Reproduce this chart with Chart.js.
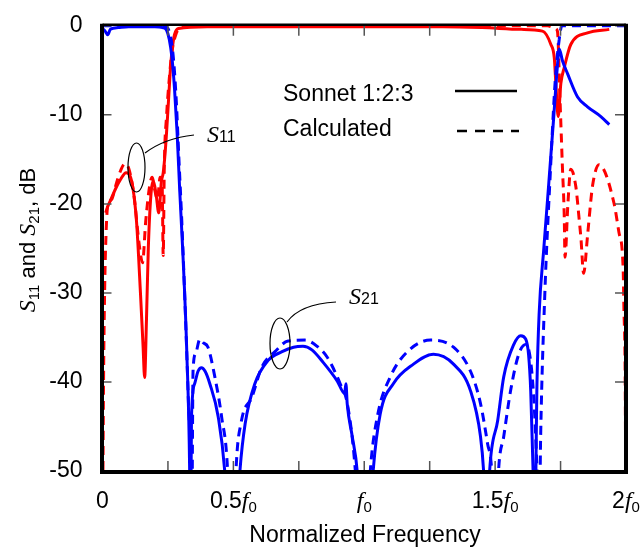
<!DOCTYPE html>
<html>
<head>
<meta charset="utf-8">
<script src="https://cdn.jsdelivr.net/npm/chart.js@4/dist/chart.umd.min.js"></script>
<style>
  body { margin: 0; background: #fff; }
  canvas { display: block; }
</style>
</head>
<body>
<canvas id="chart" width="641" height="550"></canvas>
<script>
// S21, Sonnet 1:2:3 (solid blue)
const s21SonnetF = [0, 0.01, 0.02, 0.03, 0.06, 0.1, 0.15, 0.2, 0.23, 0.245, 0.255, 0.265, 0.275, 0.285, 0.295, 0.307, 0.322, 0.333, 0.336, 0.34, 0.352, 0.365, 0.378, 0.392, 0.41, 0.442, 0.467, 0.495, 0.525, 0.545, 0.582, 0.632, 0.686, 0.73, 0.766, 0.8, 0.843, 0.897, 0.925, 0.93, 0.935, 0.954, 0.973, 1.003, 1.034, 1.061, 1.111, 1.188, 1.264, 1.341, 1.406, 1.444, 1.456, 1.468, 1.479, 1.51, 1.533, 1.571, 1.598, 1.617, 1.628, 1.636, 1.645, 1.652, 1.66, 1.668, 1.686, 1.705, 1.724, 1.738, 1.745, 1.757, 1.777, 1.815, 1.853, 1.904, 1.936];
const s21SonnetDb = [-0.3, -0.6, -1.0, -0.4, -0.2, -0.1, -0.1, -0.1, -0.2, -0.5, -1.5, -3.5, -7, -12, -18.5, -25.5, -36.6, -50, -60, -43.9, -40.2, -38.8, -38.4, -38.8, -40.2, -43.9, -50, -65, -50, -44.7, -40.2, -37.6, -36.6, -36.1, -36.0, -36.4, -37.8, -39.9, -41.3, -40.2, -42.5, -46.1, -50, -65, -50, -43.6, -40.2, -38, -36.9, -38, -41, -46.1, -50, -58, -50, -44.3, -39.4, -35.8, -34.8, -35.2, -37, -41, -50, -56, -40, -32.4, -25, -17.7, -10.2, -4.5, -2.6, -3.9, -5.4, -8, -9.1, -10.2, -11.1];

// S21, calculated (dashed blue)
const s21CalcF = [0, 0.1, 0.2, 0.24, 0.25, 0.262, 0.272, 0.282, 0.292, 0.303, 0.315, 0.328, 0.337, 0.341, 0.344, 0.346, 0.356, 0.372, 0.385, 0.403, 0.429, 0.455, 0.478, 0.495, 0.51, 0.53, 0.571, 0.609, 0.659, 0.709, 0.774, 0.82, 0.858, 0.908, 0.935, 0.966, 0.995, 1.023, 1.05, 1.1, 1.165, 1.253, 1.341, 1.406, 1.444, 1.471, 1.487, 1.5, 1.513, 1.533, 1.559, 1.59, 1.617, 1.635, 1.648, 1.66, 1.668, 1.674, 1.69, 1.71, 1.73, 1.745, 1.755, 1.8, 1.9, 2.0];
const s21CalcDb = [0, 0, 0, -0.1, -0.3, -1.5, -4, -8.5, -15, -22, -31, -42, -50, -60, -45, -38.7, -36.8, -35.2, -35.6, -36.1, -39.4, -43.9, -50, -65, -50, -44.5, -41.7, -38.3, -36.6, -35.4, -35.3, -36, -37.2, -40.2, -42.4, -50, -65, -50, -43.9, -39.4, -36.6, -35.3, -36.1, -38.8, -42.4, -46.9, -50, -60, -50, -46.1, -41, -36.9, -35.8, -37.5, -42, -50, -58, -46, -30, -17, -6, -1.5, 0, 0, 0, 0];

// S11, Sonnet 1:2:3 (solid red)
const s11SonnetF = [0.012, 0.02, 0.035, 0.05, 0.07, 0.09, 0.1, 0.115, 0.13, 0.145, 0.155, 0.161, 0.168, 0.175, 0.185, 0.195, 0.205, 0.215, 0.225, 0.232, 0.24, 0.25, 0.258, 0.265, 0.275, 0.29, 0.4, 1.0, 1.3, 1.45, 1.6, 1.681, 1.713, 1.726, 1.732, 1.741, 1.751, 1.764, 1.789, 1.853, 1.936];
const s11SonnetDb = [-21, -20.3, -19.3, -18.3, -17.2, -16.5, -16.6, -18, -22, -30, -36, -39.5, -33, -25, -19, -17.5, -19, -21, -17.5, -16.5, -14, -9.5, -5.5, -3, -1, -0.3, -0.1, -0.1, -0.1, -0.2, -0.4, -0.6, -2.1, -3.6, -6.5, -10.2, -6.5, -4.7, -2.1, -0.8, -0.4];

// S11, calculated (dashed red)
const s11CalcF = [0, 0.004, 0.008, 0.014, 0.02, 0.035, 0.05, 0.07, 0.085, 0.1, 0.12, 0.14, 0.153, 0.165, 0.18, 0.19, 0.2, 0.21, 0.22, 0.228, 0.232, 0.236, 0.245, 0.255, 0.265, 0.28, 0.3, 0.35, 1.7, 1.73, 1.738, 1.748, 1.757, 1.764, 1.767, 1.778, 1.789, 1.808, 1.821, 1.828, 1.838, 1.853, 1.859, 1.872, 1.897, 1.954, 1.973, 1.989, 1.992, 1.997, 2.0];
const s11CalcDb = [-60, -40, -30, -23, -20.2, -19.5, -18, -16.2, -15.5, -16, -19, -24.5, -26.6, -22, -18, -17, -18.5, -19.5, -17, -18, -25.8, -16, -10, -6, -3, -1, -0.2, 0, 0, -0.3, -0.6, -8.4, -15.8, -21.3, -26, -20, -16.1, -18, -21.7, -23.9, -27.8, -23.6, -21.7, -18, -15.6, -19.9, -23.2, -27.2, -31.7, -40, -60];

const xTicks = [0, 0.25, 0.5, 0.75, 1, 1.25, 1.5, 1.75, 2];
const xLabels = [[0, '0', ''], [0.5, '0.5', 'f'], [1, '', 'f'], [1.5, '1.5', 'f'], [2, '2', 'f']];
const yTicks = [0, -10, -20, -30, -40, -50];

const SANS = "'Liberation Sans', Arial, sans-serif";
const SERIF = "'Liberation Serif', 'Times New Roman', serif";

function pts(xs, ys) {
  return xs.map((x, i) => ({ x: x, y: ys[i] }));
}

// text made of pieces with their own font and baseline shift
function richText(ctx, parts, x, y, align) {
  let w = 0;
  parts.forEach(p => { ctx.font = p[1]; w += ctx.measureText(p[0]).width; });
  let cx = align === 'center' ? x - w / 2 : x;
  parts.forEach(p => {
    ctx.font = p[1];
    ctx.fillText(p[0], cx, y + (p[2] || 0));
    cx += ctx.measureText(p[0]).width;
  });
}

const decor = {
  id: 'decor',
  afterDatasetsDraw(chart) {
    const ctx = chart.ctx;
    const a = chart.chartArea;
    const xs = chart.scales.x, ys = chart.scales.y;
    ctx.save();

    // inward ticks
    ctx.strokeStyle = '#555';
    ctx.lineWidth = 1.5;
    ctx.beginPath();
    xTicks.forEach(v => {
      const px = xs.getPixelForValue(v);
      ctx.moveTo(px, a.bottom); ctx.lineTo(px, a.bottom - 10);
      ctx.moveTo(px, a.top); ctx.lineTo(px, a.top + 10);
    });
    yTicks.forEach(v => {
      const py = ys.getPixelForValue(v);
      ctx.moveTo(a.left, py); ctx.lineTo(a.left + 9, py);
      ctx.moveTo(a.right, py); ctx.lineTo(a.right - 11, py);
    });
    ctx.stroke();

    // frame
    ctx.strokeStyle = '#000';
    ctx.lineWidth = 2.5;
    ctx.beginPath();
    ctx.moveTo(a.left, a.top - 1); ctx.lineTo(a.right, a.top - 1);
    ctx.stroke();
    ctx.lineWidth = 4;
    ctx.beginPath();
    ctx.moveTo(a.left - 0.5, a.top - 2); ctx.lineTo(a.left - 0.5, a.bottom + 1);
    ctx.lineTo(a.right, a.bottom + 1); ctx.lineTo(a.right, a.top - 2);
    ctx.stroke();

    ctx.fillStyle = '#000';
    ctx.textBaseline = 'alphabetic';

    // x tick labels
    xLabels.forEach(l => {
      const px = xs.getPixelForValue(l[0]);
      const parts = [[l[1], '23px ' + SANS]];
      if (l[2]) {
        parts.push([l[2], 'italic 24px ' + SERIF]);
        parts.push(['0', '15px ' + SANS, 4]);
      }
      richText(ctx, parts, px, 508, 'center');
    });

    // axis titles
    ctx.font = '23px ' + SANS;
    ctx.textAlign = 'left';
    richText(ctx, [['Normalized Frequency', '23px ' + SANS]], 365, 542, 'center');

    ctx.save();
    ctx.translate(27, 240);
    ctx.rotate(-Math.PI / 2);
    richText(ctx, [
      ['S', 'italic 24px ' + SERIF], ['11', '15px ' + SANS, 4],
      [' and ', '22px ' + SANS],
      ['S', 'italic 24px ' + SERIF], ['21', '15px ' + SANS, 4],
      [', dB', '22px ' + SANS]
    ], 0, 8, 'center');
    ctx.restore();

    // legend
    richText(ctx, [['Sonnet 1:2:3', '23px ' + SANS]], 283, 101, 'left');
    richText(ctx, [['Calculated', '23px ' + SANS]], 283, 136, 'left');
    ctx.lineWidth = 2.7;
    ctx.beginPath();
    ctx.moveTo(455, 91); ctx.lineTo(517, 91);
    ctx.stroke();
    ctx.setLineDash([10, 8]);
    ctx.beginPath();
    ctx.moveTo(457, 131); ctx.lineTo(519, 131);
    ctx.stroke();
    ctx.setLineDash([]);

    // curve annotations
    ctx.lineWidth = 1.2;
    ctx.beginPath();
    ctx.ellipse(136.5, 167.5, 8.5, 24.5, 0, 0, Math.PI * 2);
    ctx.moveTo(145, 153);
    ctx.quadraticCurveTo(165, 138, 194, 135);
    ctx.stroke();
    richText(ctx, [['S', 'italic 24px ' + SERIF], ['11', '16px ' + SANS, 0]], 207, 142, 'left');

    ctx.beginPath();
    ctx.ellipse(280, 343.5, 10, 25.5, 0, 0, Math.PI * 2);
    ctx.moveTo(287, 322);
    ctx.quadraticCurveTo(300, 304, 336, 302);
    ctx.stroke();
    richText(ctx, [['S', 'italic 24px ' + SERIF], ['21', '16px ' + SANS, 0]], 349, 304, 'left');

    ctx.restore();
  }
};

const line = (data, color, dash) => ({
  data: data,
  borderColor: color,
  borderWidth: 3,
  borderDash: dash,
  pointRadius: 0,
  fill: false,
  cubicInterpolationMode: 'monotone'
});

new Chart(document.getElementById('chart'), {
  type: 'line',
  data: {
    datasets: [
      line(pts(s21CalcF, s21CalcDb), '#0000ff', [9, 6]),
      line(pts(s21SonnetF, s21SonnetDb), '#0000ff', []),
      line(pts(s11CalcF, s11CalcDb), '#ff0000', [9, 6]),
      line(pts(s11SonnetF, s11SonnetDb), '#ff0000', [])
    ]
  },
  options: {
    responsive: false,
    animation: false,
    layout: { padding: { top: 17, right: 15, left: 0, bottom: 0 } },
    plugins: { legend: { display: false }, tooltip: { enabled: false } },
    scales: {
      x: {
        type: 'linear', min: 0, max: 2,
        ticks: { display: false, stepSize: 0.25 },
        grid: { display: false },
        border: { display: false },
        afterFit: s => { s.height = 79; }
      },
      y: {
        min: -50, max: 0,
        ticks: { stepSize: 10, color: '#000', padding: 12, font: { family: SANS, size: 23 } },
        grid: { display: false },
        border: { display: false },
        afterFit: s => { s.width = 102.5; }
      }
    }
  },
  plugins: [decor]
});
</script>
</body>
</html>
